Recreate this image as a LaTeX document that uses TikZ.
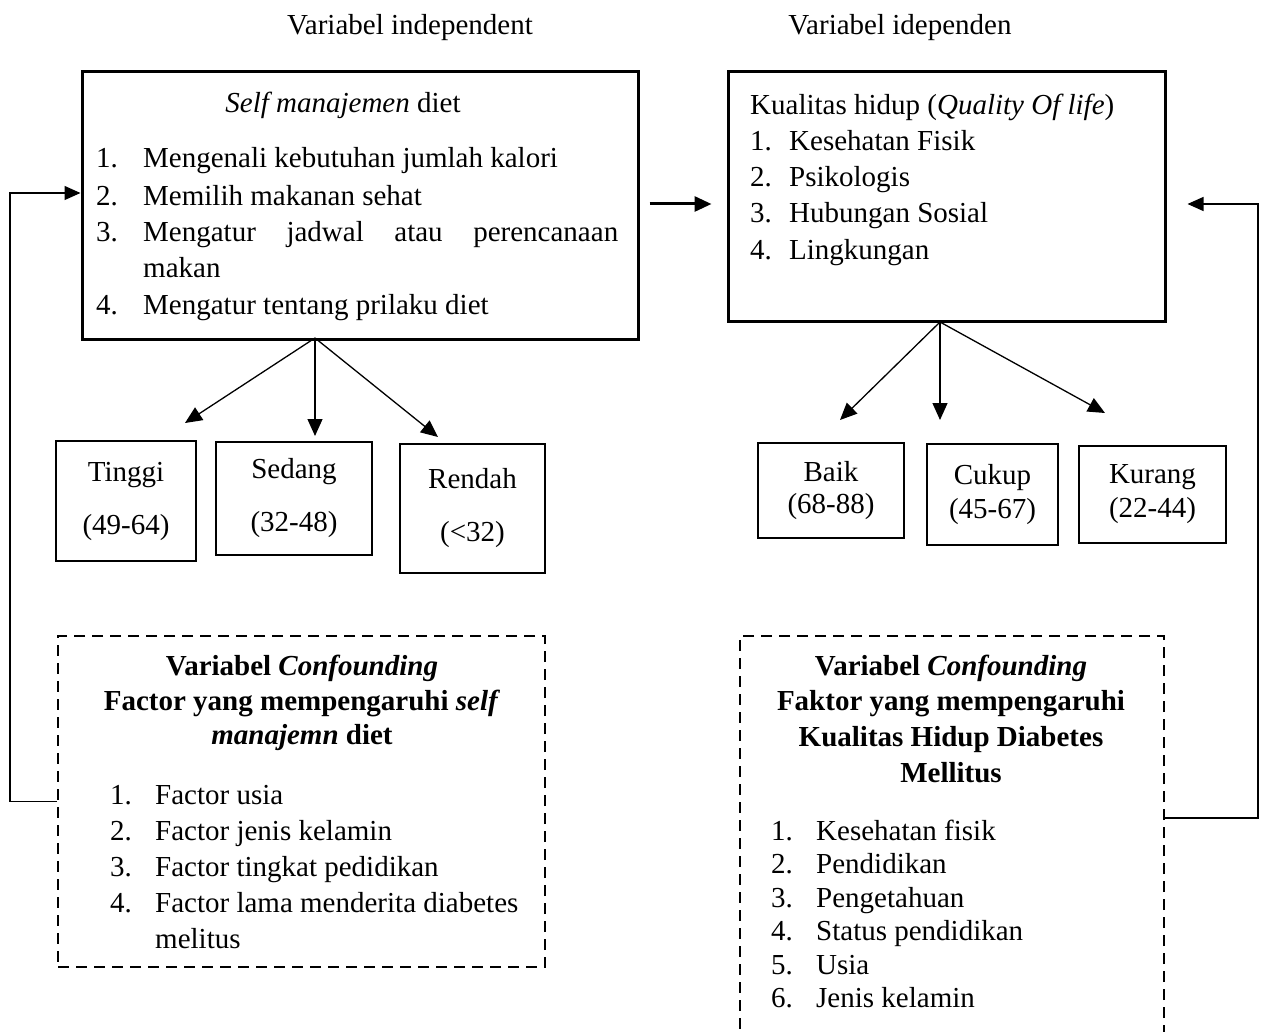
\documentclass[tikz,border=0pt]{standalone}
\usepackage{fontspec}
\setmainfont{Liberation Serif}
\usetikzlibrary{arrows.meta}

\begin{document}
\begin{tikzpicture}[x=1pt,y=-1pt,
	every node/.style={font=\fontsize{29}{36}\selectfont},
	txt/.style={inner sep=0pt, text height=20pt, text depth=6pt, yshift=-3pt},
	mainbox/.style={draw, line width=3pt, inner sep=0pt},
	catbox/.style={draw, line width=2.2pt, align=center, inner sep=0pt},
	confbox/.style={draw, line width=2pt, dash pattern=on 11pt off 7pt, inner sep=0pt},
	conn/.style={line width=1.3pt, -{Triangle[length=17pt,width=15pt]}},
	mainarrow/.style={line width=3pt, -{Triangle[length=17pt,width=15pt]}},
	fbarrow/.style={line width=1.3pt, -{Triangle[length=16pt,width=14pt]}}]
		\path[use as bounding box, clip] (0,0) rectangle (1264,1032);

		% judul variabel
		\node[txt] (hdrA) at (410,25) {Variabel independent};
		\node[txt] (hdrB) at (900,25) {Variabel idependen};

		% kotak utama
		\node[mainbox, minimum width=556, minimum height=268] (selfbox) at (360,206) {};
		\node[mainbox, minimum width=437, minimum height=250] (qolbox) at (946.5,197) {};

		\node[txt] (selftitle) at (343,103) {\textit{Self manajemen} diet};
		\foreach \y/\n/\t in {158/1./Mengenali kebutuhan jumlah kalori, 196/2./Memilih makanan sehat, 305/4./Mengatur tentang prilaku diet}
		{
			\node[txt, anchor=west] (selfnum\y) at (96,\y) {\n};
			\node[txt, anchor=west] (selfitem\y) at (143,\y) {\t};
		}
		\node[txt, anchor=west] (selfnum232) at (96,232) {3.};
		\node[txt, anchor=west] (selfitem232) at (143,232) {\makebox[475pt][s]{Mengatur jadwal atau perencanaan}};
		\node[txt, anchor=west] (selfitem268) at (143,268) {makan};

		\node[txt, anchor=west] (qoltitle) at (750,105) {Kualitas hidup (\textit{Quality Of life})};
		\foreach \y/\n/\t in {141/1./Kesehatan Fisik, 177/2./Psikologis, 213/3./Hubungan Sosial, 250/4./Lingkungan}
		{
			\node[txt, anchor=west] (qolnum\y) at (750,\y) {\n};
			\node[txt, anchor=west] (qolitem\y) at (789,\y) {\t};
		}

		% kategori
		\node[catbox, minimum width=140, minimum height=120] (tinggi) at (126,501) {Tinggi\\[17pt](49-64)};
		\node[catbox, minimum width=156, minimum height=113] (sedang) at (294,498.5) {Sedang\\[17pt](32-48)};
		\node[catbox, minimum width=145, minimum height=129] (rendah) at (472.5,508.5) {Rendah\\[17pt](<32)};
		\node[catbox, minimum width=146, minimum height=95, font=\fontsize{29}{32}\selectfont] (baik) at (831,490.5) {Baik\\(68-88)};
		\node[catbox, minimum width=131, minimum height=101, font=\fontsize{29}{34}\selectfont] (cukup) at (992.5,494.5) {Cukup\\(45-67)};
		\node[catbox, minimum width=147, minimum height=97, font=\fontsize{29}{34}\selectfont] (kurang) at (1152.5,494.5) {Kurang\\(22-44)};

		\coordinate (selfbot) at (315,338);
		\coordinate (tipT) at (185,423);
		\coordinate (tipS) at (315,436);
		\coordinate (tipR) at (438,437);
		\draw[conn] (selfbot) -- (tipT);
		\draw[conn] (selfbot) -- (tipS);
		\draw[conn] (selfbot) -- (tipR);

		\coordinate (qolbot) at (940,322);
		\coordinate (tipB) at (840,420);
		\coordinate (tipC) at (940,420);
		\coordinate (tipK) at (1105,413);
		\draw[conn] (qolbot) -- (tipB);
		\draw[conn] (qolbot) -- (tipC);
		\draw[conn] (qolbot) -- (tipK);

		\draw[mainarrow, shorten <=10pt, shorten >=15pt] ([yshift=2pt]selfbox.east) -- ([yshift=2pt]selfbox.east -| qolbox.west);

		% variabel confounding
		\node[confbox, minimum width=487, minimum height=331] (confA) at (301.5,801.5) {};
		\node[confbox, minimum width=424, minimum height=444] (confB) at (952,858) {};

		\node[txt, font=\fontsize{29}{36}\selectfont\bfseries] (confAt1) at (302,665) {Variabel \textit{Confounding}};
		\node[txt, font=\fontsize{29}{36}\selectfont\bfseries] (confAt2) at (302,700) {Factor yang mempengaruhi \textit{self}};
		\node[txt, font=\fontsize{29}{36}\selectfont\bfseries] (confAt3) at (302,734) {\textit{manajemn} diet};
		\foreach \y/\n/\t in {794/1./Factor usia, 830/2./Factor jenis kelamin, 866/3./Factor tingkat pedidikan, 902/4./Factor lama menderita diabetes}
		{
			\node[txt, anchor=west] (confAnum\y) at (110,\y) {\n};
			\node[txt, anchor=west] (confAitem\y) at (155,\y) {\t};
		}
		\node[txt, anchor=west] (confAitem938) at (155,938) {melitus};

		\node[txt, font=\fontsize{29}{36}\selectfont\bfseries] (confBt1) at (951,665) {Variabel \textit{Confounding}};
		\node[txt, font=\fontsize{29}{36}\selectfont\bfseries] (confBt2) at (951,700) {Faktor yang mempengaruhi};
		\node[txt, font=\fontsize{29}{36}\selectfont\bfseries] (confBt3) at (951,736) {Kualitas Hidup Diabetes};
		\node[txt, font=\fontsize{29}{36}\selectfont\bfseries] (confBt4) at (951,772) {Mellitus};
		\foreach \y/\n/\t in {830/1./Kesehatan fisik, 863/2./Pendidikan, 897/3./Pengetahuan, 930/4./Status pendidikan, 964/5./Usia, 997/6./Jenis kelamin}
		{
			\node[txt, anchor=west] (confBnum\y) at (771,\y) {\n};
			\node[txt, anchor=west] (confBitem\y) at (816,\y) {\t};
		}

		% garis umpan balik
		\draw[fbarrow] (confA.west) -- ++(-47,0) |- ([yshift=13pt]selfbox.west);
		\draw[fbarrow, shorten >=21pt] ([yshift=40pt]confB.east) -- ++(93,0) |- ([yshift=-7pt]qolbox.east);
	\end{tikzpicture}
\end{document}
